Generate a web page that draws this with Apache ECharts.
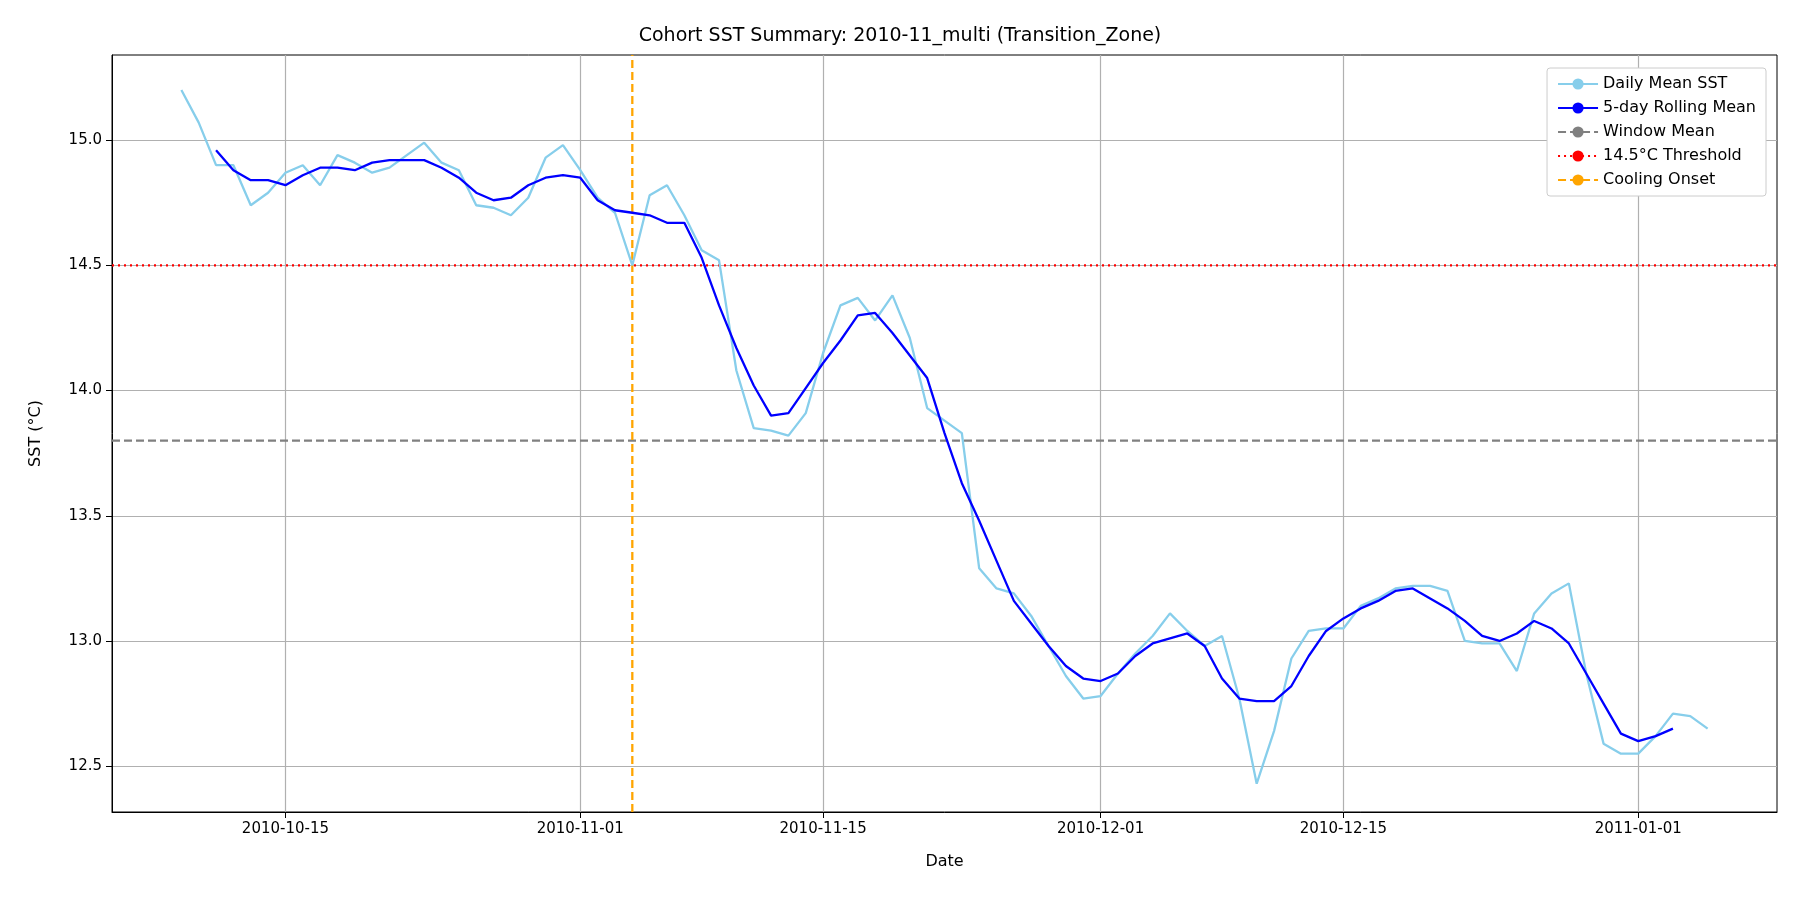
<html>
<head>
<meta charset="utf-8" />
<title>Cohort SST Summary</title>
<script src="https://cdn.jsdelivr.net/npm/echarts@6/dist/echarts.min.js"></script>
</head>
<body style="margin:0">
<div id="chart" style="width:1800px;height:900px;"></div>
<script type="text/javascript">
// daily mean SST, 2010-10-09 .. 2011-01-05
var firstDay = '2010-10-09';
var dailyMean = [15.20, 15.07, 14.90, 14.90, 14.74, 14.79, 14.87, 14.90, 14.82, 14.94,
    14.91, 14.87, 14.89, 14.94, 14.99, 14.91, 14.88, 14.74, 14.73, 14.70,
    14.77, 14.93, 14.98, 14.88, 14.77, 14.71, 14.50, 14.78, 14.82, 14.70,
    14.56, 14.52, 14.08, 13.85, 13.84, 13.82, 13.91, 14.15, 14.34, 14.37,
    14.28, 14.38, 14.21, 13.93, 13.88, 13.83, 13.29, 13.21, 13.19, 13.10,
    12.98, 12.86, 12.77, 12.78, 12.87, 12.95, 13.02, 13.11, 13.04, 12.98,
    13.02, 12.77, 12.43, 12.64, 12.93, 13.04, 13.05, 13.05, 13.14, 13.17,
    13.21, 13.22, 13.22, 13.20, 13.00, 12.99, 12.99, 12.88, 13.11, 13.19,
    13.23, 12.87, 12.59, 12.55, 12.55, 12.62, 12.71, 12.70, 12.65];
// 5-day centred rolling mean, starts 2010-10-11
var rollingStart = 2;
var rollingMean = [14.96, 14.88, 14.84, 14.84, 14.82, 14.86, 14.89, 14.89, 14.88, 14.91,
    14.92, 14.92, 14.92, 14.89, 14.85, 14.79, 14.76, 14.77, 14.82, 14.85,
    14.86, 14.85, 14.76, 14.72, 14.71, 14.70, 14.67, 14.67, 14.53, 14.34,
    14.17, 14.02, 13.90, 13.91, 14.01, 14.11, 14.20, 14.30, 14.31, 14.23,
    14.14, 14.05, 13.83, 13.63, 13.48, 13.32, 13.16, 13.07, 12.98, 12.90,
    12.85, 12.84, 12.87, 12.94, 12.99, 13.01, 13.03, 12.98, 12.85, 12.77,
    12.76, 12.76, 12.82, 12.94, 13.04, 13.09, 13.13, 13.16, 13.20, 13.21,
    13.17, 13.13, 13.08, 13.02, 13.00, 13.03, 13.08, 13.05, 12.99, 12.87,
    12.75, 12.63, 12.60, 12.62, 12.65];
var windowMean = 13.80;
var threshold = 14.5;
var coolingOnset = '2010-11-04';
var axisStart = '2010-10-05';
var axisEnd = '2011-01-09';
var tickDates = ['2010-10-15', '2010-11-01', '2010-11-15', '2010-12-01', '2010-12-15', '2011-01-01'];
var yTicks = [12.5, 13.0, 13.5, 14.0, 14.5, 15.0];
var yMin = 12.317, yMax = 15.34;

function fmt(d) {
    return d.toISOString().slice(0, 10);
}
function addDays(s, n) {
    var d = new Date(s + 'T00:00:00Z');
    d.setUTCDate(d.getUTCDate() + n);
    return fmt(d);
}
var categories = [];
for (var d = axisStart; d <= axisEnd; d = addDays(d, 1)) categories.push(d);

var dailyData = dailyMean.map(function (v, i) { return [addDays(firstDay, i), v]; });
var rollData = rollingMean.map(function (v, i) { return [addDays(firstDay, i + rollingStart), v]; });
var isTick = function (idx, val) { return tickDates.indexOf(val) >= 0; };

var chart = echarts.init(document.getElementById('chart'));
var font = 'DejaVu Sans';
chart.setOption({
    animation: false,
    textStyle: { fontFamily: font },
    title: {
        text: 'Cohort SST Summary: 2010-11_multi (Transition_Zone)',
        left: 'center', top: 22,
        textStyle: { fontFamily: font, fontSize: 19, fontWeight: 'normal', color: '#000' }
    },
    grid: { left: 112, right: 23, top: 55, bottom: 88, show: true, borderColor: '#000', borderWidth: 1 },
    legend: {
        orient: 'vertical', right: 34, top: 68,
        itemWidth: 40, itemHeight: 14, itemGap: 8,
        backgroundColor: '#fff', borderColor: '#ccc', borderWidth: 1, borderRadius: 3,
        padding: [8, 10],
        textStyle: { fontSize: 16, color: '#000' },
        data: ['Daily Mean SST', '5-day Rolling Mean', 'Window Mean', '14.5\u00b0C Threshold', 'Cooling Onset']
    },
    xAxis: {
        type: 'category', data: categories, boundaryGap: false,
        name: 'Date', nameLocation: 'middle', nameGap: 42,
        nameTextStyle: { fontSize: 16, color: '#000' },
        axisLine: { lineStyle: { color: '#000' } },
        axisTick: { interval: isTick, length: 6, lineStyle: { color: '#000' } },
        axisLabel: { interval: isTick, fontSize: 15, color: '#000', margin: 10 },
        splitLine: { show: true, interval: isTick, lineStyle: { color: '#b0b0b0', width: 1.2 } }
    },
    yAxis: {
        type: 'value', min: yMin, max: yMax,
        name: 'SST (\u00b0C)', nameLocation: 'middle', nameGap: 68,
        nameTextStyle: { fontSize: 16, color: '#000' },
        axisLine: { show: true, lineStyle: { color: '#000' } },
        axisTick: { show: true, customValues: yTicks, length: 6, lineStyle: { color: '#000' } },
        axisLabel: { customValues: yTicks, fontSize: 15, color: '#000', margin: 10,
            formatter: function (v) { return v.toFixed(1); } },
        splitLine: { show: true, lineStyle: { color: '#b0b0b0', width: 1.2 } }
    },
    series: [
        { name: 'Daily Mean SST', type: 'line', data: dailyData, symbol: 'none',
          lineStyle: { color: '#87ceeb', width: 2.3 }, itemStyle: { color: '#87ceeb' }, z: 3 },
        { name: '5-day Rolling Mean', type: 'line', data: rollData, symbol: 'none',
          lineStyle: { color: '#0000ff', width: 2.3 }, itemStyle: { color: '#0000ff' }, z: 4 },
        { name: 'Window Mean', type: 'line', symbol: 'none',
          data: [[axisStart, windowMean], [axisEnd, windowMean]],
          lineStyle: { color: '#808080', width: 2.3, type: [8, 4] }, itemStyle: { color: '#808080' }, z: 2 },
        { name: '14.5\u00b0C Threshold', type: 'line', symbol: 'none',
          data: [[axisStart, threshold], [axisEnd, threshold]],
          lineStyle: { color: '#ff0000', width: 2.3, type: [2, 4] }, itemStyle: { color: '#ff0000' }, z: 2 },
        { name: 'Cooling Onset', type: 'line', symbol: 'none',
          data: [[coolingOnset, yMin], [coolingOnset, yMax]],
          lineStyle: { color: '#ffa500', width: 2.3, type: [8, 4] }, itemStyle: { color: '#ffa500' }, z: 2 }
    ]
});
</script>
</body>
</html>
